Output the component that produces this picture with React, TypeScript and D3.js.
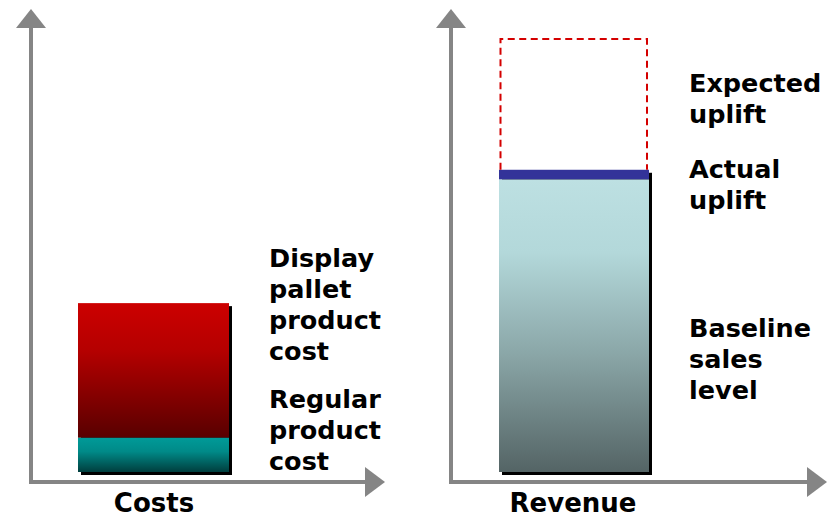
import React from "react";
import * as d3 from "d3";

// Panels (categories)
const panels = ["Costs", "Revenue"];
// Costs stack (bottom to top)
const costSegments = ["Regular product cost", "Display pallet product cost"];
const costValues = [7.9, 31.1];
// Revenue stack
const revenueSegments = ["Baseline sales level", "Actual uplift", "Expected uplift"];
const revenueValues = [67.6, 2.2, 30.2];
// Label lines
const costLabels = [["Display", "pallet", "product", "cost"], ["Regular", "product", "cost"]];
const revenueLabels = [["Expected", "uplift"], ["Actual", "uplift"], ["Baseline", "sales", "level"]];

const W = 833, H = 519;
const FONT = "'DejaVu Sans', Verdana, sans-serif";
const AX = "#858585";

export default function App() {
  const y = d3.scaleLinear().domain([0, 100]).range([472, 39]);
  const panelX = d3.scaleBand().domain(panels).range([0, 842]);
  const off = (p: string) => panelX(p) as number;

  const costStack = d3.cumsum(costValues);
  const revStack = d3.cumsum(revenueValues);

  const axes = (ox: number, xEnd: number) => (
    <g>
      <line x1={ox} x2={ox} y1={28} y2={484} stroke={AX} strokeWidth={4} />
      <polygon points={`${ox - 15},28 ${ox + 15},28 ${ox},9`} fill={AX} />
      <line x1={ox - 2} x2={xEnd} y1={482} y2={482} stroke={AX} strokeWidth={4} />
      <polygon points={`${xEnd},467 ${xEnd},497 ${xEnd + 20},482`} fill={AX} />
    </g>
  );

  const textLines = (lines: string[], x: number, y0: number, key: string) => (
    <text key={key} x={x} y={y0} fontFamily={FONT} fontWeight="bold" fontSize={25.5} fill="#000">
      {lines.map((l, i) => (
        <tspan key={i} x={x} y={y0 + i * 31}>{l}</tspan>
      ))}
    </text>
  );

  const cx0 = off("Costs") + 78, cx1 = off("Costs") + 229;
  const rx0 = 499, rx1 = 649;

  return (
    <svg width={W} height={H} style={{ position: "absolute", left: 0, top: 0, display: "block" }}>
      <defs>
        <linearGradient id="gRed" x1="0" y1="0" x2="0" y2="1">
          <stop offset="0" stopColor="#cc0000" />
          <stop offset="0.35" stopColor="#b50000" />
          <stop offset="1" stopColor="#580000" />
        </linearGradient>
        <linearGradient id="gTeal" x1="0" y1="0" x2="0" y2="1">
          <stop offset="0" stopColor="#009a98" />
          <stop offset="0.4" stopColor="#008a88" />
          <stop offset="1" stopColor="#003e3e" />
        </linearGradient>
        <linearGradient id="gRev" x1="0" y1="0" x2="0" y2="1">
          <stop offset="0" stopColor="#bde0e2" />
          <stop offset="0.25" stopColor="#b3d8da" />
          <stop offset="0.6" stopColor="#8aa6a7" />
          <stop offset="1" stopColor="#546465" />
        </linearGradient>
      </defs>
      <rect width={W} height={H} fill="#fff" />

      {axes(off("Costs") + 31, 365)}
      {axes(off("Revenue") + 30, 807)}

      <rect x={cx0 + 3} y={y(costStack[1]) + 3} width={cx1 - cx0} height={y(0) - y(costStack[1])} fill="#000" />
      <rect x={cx0} y={y(costStack[1])} width={cx1 - cx0} height={y(costStack[0]) - y(costStack[1])} fill="url(#gRed)" />
      <rect x={cx0} y={y(costStack[0])} width={cx1 - cx0} height={y(0) - y(costStack[0])} fill="url(#gTeal)" />

      <rect x={rx0 + 3} y={y(revStack[1]) + 3} width={rx1 - rx0} height={y(0) - y(revStack[1])} fill="#000" />
      <rect x={rx0} y={y(revStack[0])} width={rx1 - rx0} height={y(0) - y(revStack[0])} fill="url(#gRev)" />
      <rect x={rx0} y={y(revStack[1])} width={rx1 - rx0} height={y(revStack[0]) - y(revStack[1])} fill="#333399" />
      <path
        d={`M${rx0 + 1.5},${y(revStack[1])} V${y(revStack[2])} H${rx1 - 2} V${y(revStack[1])}`}
        fill="none" stroke="#d40000" strokeWidth={2} strokeDasharray="7,4.5" />

      {textLines(costLabels[0], 269, 267, "c0")}
      {textLines(costLabels[1], 269, 408, "c1")}
      {textLines(revenueLabels[0], 689, 92, "r0")}
      {textLines(revenueLabels[1], 689, 178, "r1")}
      {textLines(revenueLabels[2], 689, 337, "r2")}

      <text x={154} y={512} textAnchor="middle" fontFamily={FONT} fontWeight="bold" fontSize={26} fill="#000">{panels[0]}</text>
      <text x={573} y={512} textAnchor="middle" fontFamily={FONT} fontWeight="bold" fontSize={26} fill="#000">{panels[1]}</text>
    </svg>
  );
}
